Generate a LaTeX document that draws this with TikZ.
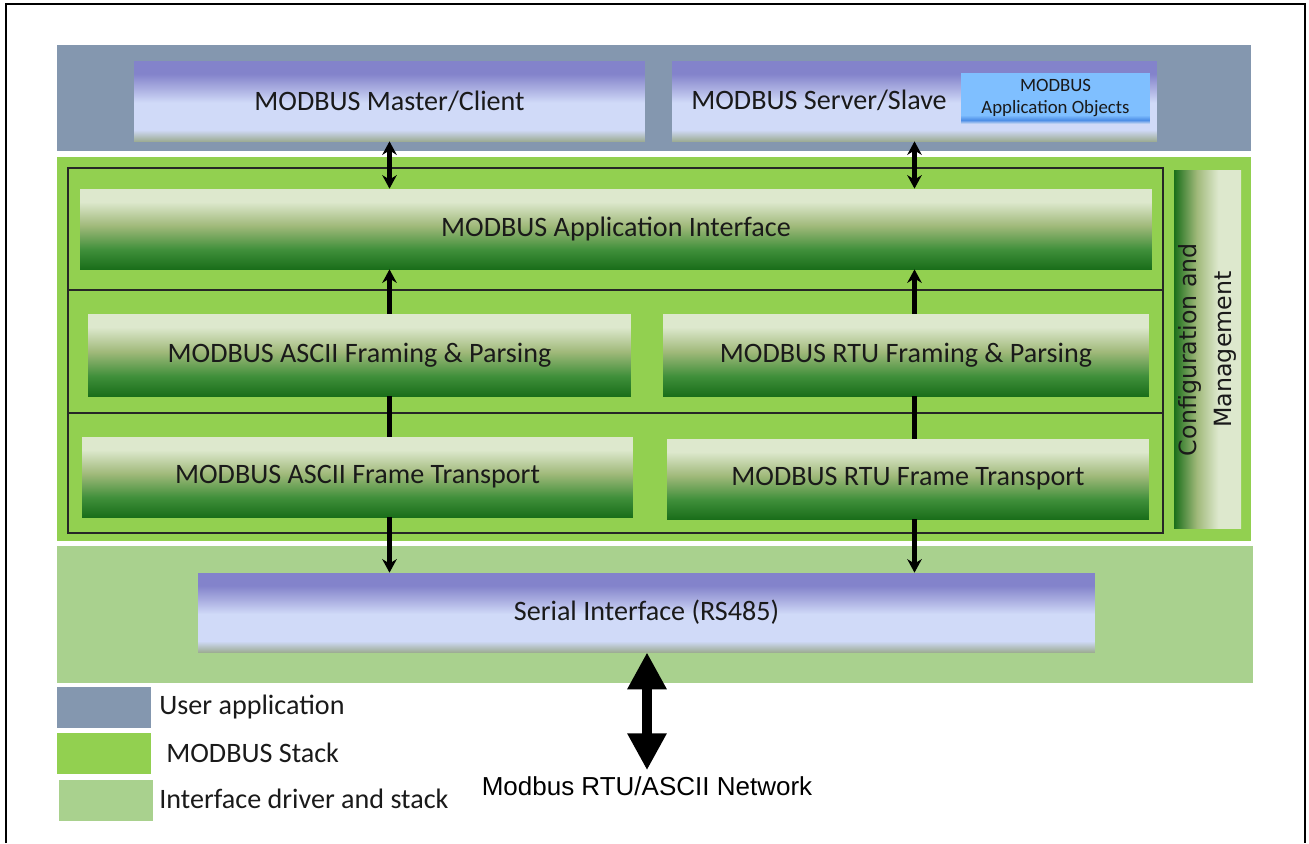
\documentclass[tikz,border=0pt]{standalone}
\usepackage{fontspec}
\setmainfont{Carlito}
\newfontfamily\netfont{Liberation Sans}
\newfontfamily\cfgfont{DejaVu Sans}
\usepackage{xcolor}
\usetikzlibrary{arrows.meta, positioning, calc}
\definecolor{userslate}{HTML}{8497AF}
\definecolor{stackgreen}{HTML}{92D050}
\definecolor{drivergreen}{HTML}{A9D18E}
\definecolor{bartop}{HTML}{8383CB}
\definecolor{barhaze}{HTML}{A9ADE0}
\definecolor{barlight}{HTML}{D0DAF8}
\definecolor{barfoot}{HTML}{9EAD96}
\definecolor{gtop}{HTML}{DDE8CD}
\definecolor{gmid}{HTML}{A0B97A}
\definecolor{gdeep}{HTML}{3F8F3A}
\definecolor{gdark}{HTML}{1A6E1A}
\definecolor{objsky}{HTML}{7FBFFF}
\definecolor{objdeep}{HTML}{4C8DE6}
\definecolor{objlow}{HTML}{B4CCF2}
\definecolor{inktext}{HTML}{1A1A1A}

\pgfdeclareverticalshading{bluebar}{100bp}{color(0bp)=(barfoot); color(25bp)=(barfoot); color(32bp)=(barlight); color(49bp)=(barlight); color(58bp)=(barhaze); color(67bp)=(bartop); color(100bp)=(bartop)}
\pgfdeclareverticalshading{greenbar}{100bp}{color(0bp)=(gdark); color(25bp)=(gdark); color(37bp)=(gdeep); color(52bp)=(gmid); color(67bp)=(gtop); color(100bp)=(gtop)}
\pgfdeclarehorizontalshading{sidebar}{100bp}{color(0bp)=(gdark); color(25bp)=(gdark); color(42bp)=(gmid); color(58bp)=(gtop); color(100bp)=(gtop)}
\pgfdeclareverticalshading{objbar}{100bp}{color(0bp)=(objlow); color(25bp)=(objlow); color(28bp)=(objdeep); color(33bp)=(objsky); color(100bp)=(objsky)}

\tikzset{
  hostbox/.style={shade, shading=bluebar, inner sep=0pt, text=inktext, font=\fontsize{16}{19}\selectfont},
  layerbox/.style={shade, shading=greenbar, inner sep=0pt, text=inktext, font=\fontsize{16}{19}\selectfont},
  objbox/.style={shade, shading=objbar, inner sep=0pt, text=inktext, align=center, font=\fontsize{10.7}{13}\selectfont},
  legendtext/.style={anchor=west, inner sep=0pt, text=inktext, font=\fontsize{16}{19}\selectfont},
  frameline/.style={line width=0.9pt, black!85},
  flow/.style={line width=2.3pt, -{Stealth[width=0.29cm, length=0.27cm]}},
  twoway/.style={line width=2.3pt, {Stealth[width=0.29cm, length=0.27cm]}-{Stealth[width=0.29cm, length=0.27cm]}},
  link/.style={line width=2.3pt},
  bigway/.style={line width=6.2pt, {Triangle[width=0.74cm, length=0.74cm]}-{Triangle[width=0.74cm, length=0.74cm]}}
}

\begin{document}
\begin{tikzpicture}[x=0.02cm, y=-0.02cm]
  % Canvas and outer frame
  \useasboundingbox (0,0) rectangle (1309,843);
  \fill[white] (0,0) rectangle (1309,843);
  \draw[line width=1.2pt] (6,843) -- (6,4) -- (1305,4) -- (1305,843);

  % Layer bands
  \fill[userslate] (57,45) rectangle (1251,151);
  \fill[stackgreen] (57,157) rectangle (1251,541);
  \fill[drivergreen] (57,546) rectangle (1253,683);

  % Stack frame and dividers
  \draw[frameline] (68,168) rectangle (1163,533);
  \draw[frameline] (68,290) -- (1163,290);
  \draw[frameline] (68,413) -- (1163,413);

  % User application
  \node[hostbox, minimum width=10.22cm, minimum height=1.6cm] (master) at (389.5,101) {MODBUS Master/Client};
  \node[hostbox, minimum width=9.7cm, minimum height=1.6cm] (server) at (914.5,101) {};
  \node[text=inktext, font=\fontsize{16}{19}\selectfont] (servertext) at (819,100) {MODBUS Server/Slave};
  \node[objbox, minimum width=3.78cm, minimum height=1cm] (appobj) at (1055.5,98) {MODBUS\\Application Objects};

  % MODBUS stack
  \node[layerbox, minimum width=21.44cm, minimum height=1.6cm] (apiface) at (616,229) {MODBUS Application Interface};
  \node[layerbox, minimum width=10.86cm, minimum height=1.64cm] (asciifp) at (359.5,355) {MODBUS ASCII Framing \& Parsing};
  \node[layerbox, minimum width=9.72cm, minimum height=1.64cm] (rtufp) at (906,355) {MODBUS RTU Framing \& Parsing};
  \node[layerbox, minimum width=11.02cm, minimum height=1.6cm] (asciift) at (357.5,477) {MODBUS ASCII Frame Transport};
  \node[layerbox, minimum width=9.64cm, minimum height=1.6cm] (rtuft) at (908,479) {MODBUS RTU Frame Transport};
  \node[shade, shading=sidebar, inner sep=0pt, minimum width=1.34cm, minimum height=7.18cm] (config) at (1207.5,349.5) {};
  \node[rotate=90, align=center, text=inktext, font=\cfgfont\fontsize{13.5}{20}\selectfont] (configtext) at (config.center) {Configuration and\\Management};

  % Interface driver
  \node[hostbox, minimum width=17.94cm, minimum height=1.58cm] (serial) at (646.5,612.5) {Serial Interface (RS485)};
  \node[text=black, font=\netfont\fontsize{14.8}{17}\selectfont] (network) at (647,786) {Modbus RTU/ASCII Network};

  % Data paths
  \draw[twoway] (master.south) -- (master.south |- apiface.north);
  \draw[twoway] (server.south) -- (server.south |- apiface.north);
  \draw[flow] (master.south |- asciifp.north) -- (master.south |- apiface.south);
  \draw[flow] (server.south |- rtufp.north) -- (server.south |- apiface.south);
  \draw[link] (master.south |- asciifp.south) -- (master.south |- asciift.north);
  \draw[link] (server.south |- rtufp.south) -- (server.south |- rtuft.north);
  \draw[flow] (master.south |- asciift.south) -- (master.south |- serial.north);
  \draw[flow] (server.south |- rtuft.south) -- (server.south |- serial.north);
  \draw[bigway] (serial.south -| network.north) -- (network.north);

  % Legend
  \fill[userslate] (57,687) rectangle (151,728);
  \fill[stackgreen] (57,733) rectangle (151,774);
  \fill[drivergreen] (59,780) rectangle (153,821);
  \node[legendtext] (keyuser) at (159,707) {User application};
  \node[legendtext] (keystack) at (166,753) {MODBUS Stack};
  \node[legendtext] (keydriver) at (159,799) {Interface driver and stack};
\end{tikzpicture}
\end{document}
